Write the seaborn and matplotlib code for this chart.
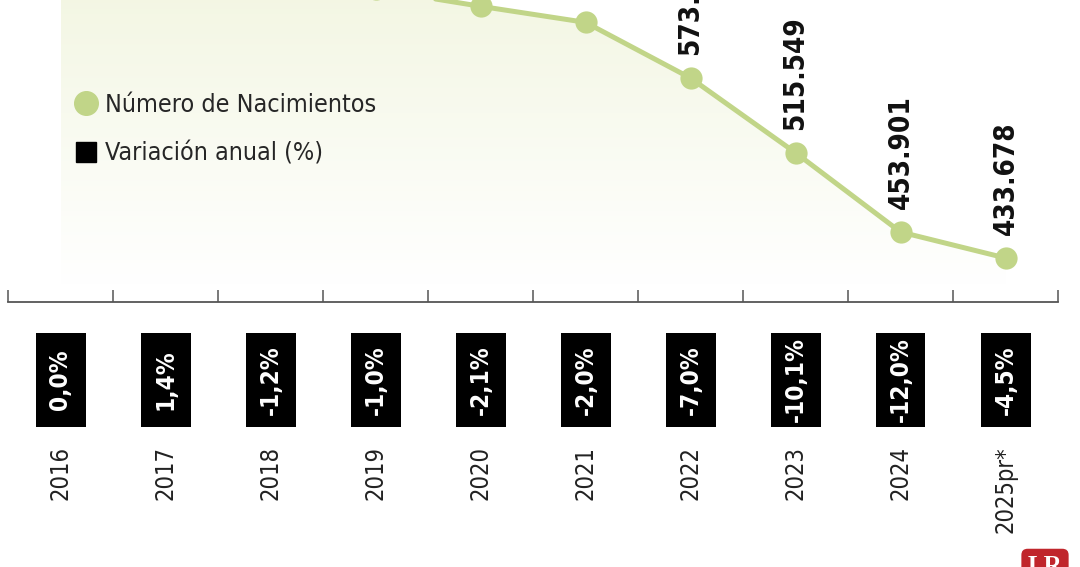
import numpy as np
import pandas as pd
import matplotlib.pyplot as plt
import seaborn as sns
from matplotlib import font_manager as fm
from matplotlib.patches import Rectangle, Polygon
from matplotlib.lines import Line2D
from matplotlib.transforms import blended_transform_factory
from matplotlib.colors import LinearSegmentedColormap

# Datos
years = ["2016", "2017", "2018", "2019", "2020", "2021", "2022", "2023", "2024", "2025pr*"]
births = [647521, 656704, 649115, 642660, 629402, 616914, 573625, 515549, 453901, 433678]
variation = ["0,0%", "1,4%", "-1,2%", "-1,0%", "-2,1%", "-2,0%", "-7,0%", "-10,1%", "-12,0%", "-4,5%"]

df = pd.DataFrame({"i": np.arange(len(years)), "year": years, "births": births})

green = "#c1d588"

sns.set_style("white")

# pick a narrow/condensed font if there is one
installed = {(f.name, f.stretch) for f in fm.fontManager.ttflist}
names = {n for n, _ in installed}
stretch = "normal"
if "Liberation Sans Narrow" in names:
    fam = "Liberation Sans Narrow"
else:
    fam = "DejaVu Sans"
    for cand in ["DejaVu Sans", "Noto Sans", "Open Sans", "Roboto"]:
        if any(n == cand and s in ("condensed", "semi-condensed", "extra-condensed")
               for n, s in installed):
            fam = cand
            stretch = "condensed"
            break
plt.rcParams["font.family"] = [fam, "DejaVu Sans"]
plt.rcParams["font.stretch"] = stretch

W, H = 1080, 567
fig = plt.figure(figsize=(10.8, 5.67), dpi=100)
# axes extends above the figure so the top of the chart is cut off
ax = fig.add_axes([8 / W, 1 - 302 / H, 1050 / W, 362 / H])
ax.set_xlim(-0.5, 9.5)
ax.set_ylim(399463, 680957)

# gradient area under the line
cmap = LinearSegmentedColormap.from_list("g", ["#ffffff", "#f1f5de"])
grad = np.linspace(0, 1, 256).reshape(-1, 1)
ybot = 412683
im = ax.imshow(grad, cmap=cmap, aspect="auto", origin="lower",
               extent=[0, len(years) - 1, ybot, 680957], zorder=0)
poly = Polygon(list(zip(df["i"], df["births"])) + [(len(years) - 1, ybot), (0, ybot)],
               closed=True, facecolor="none", edgecolor="none")
ax.add_patch(poly)
im.set_clip_path(poly)

sns.lineplot(data=df, x="i", y="births", ax=ax, color=green, linewidth=3.6,
             marker="o", markersize=16, markeredgewidth=0, zorder=3)

for i, v in zip(df["i"], df["births"]):
    ax.annotate(f"{v:,}".replace(",", "."), (i, v), xytext=(0, 16.5),
                textcoords="offset points", rotation=90, ha="center", va="bottom",
                fontsize=20, fontweight="bold", color="#111111", zorder=4)

# axis styling
for s in ["top", "left", "right"]:
    ax.spines[s].set_visible(False)
ax.spines["bottom"].set_color("#555555")
ax.spines["bottom"].set_linewidth(1.3)
ax.set_yticks([])
ax.set_xticks(np.arange(-0.5, len(years), 1.0))
ax.set_xticklabels([])
ax.tick_params(axis="x", bottom=True, direction="in", length=9, width=1.1,
               color="#555555")
ax.set_xlabel("")
ax.set_ylabel("")
ax.set_facecolor("none")

# variation boxes and year labels
tr = blended_transform_factory(ax.transData, fig.transFigure)
for i, (y, p) in enumerate(zip(years, variation)):
    ax.add_patch(Rectangle((i - 25 / 105, 1 - 427 / H), 50 / 105, 94 / H,
                           transform=tr, facecolor="black", edgecolor="none",
                           clip_on=False))
    ax.text(i, 1 - 380 / H, p, transform=tr, rotation=90, ha="center", va="center",
            color="white", fontsize=17.5, fontweight="bold", clip_on=False)
    ax.text(i, 1 - 446 / H, y, transform=tr, rotation=90, ha="center", va="top",
            color="#222222", fontsize=17, clip_on=False)

# legend
handles = [Line2D([], [], marker="o", color=green, linestyle="none", markersize=17),
           Line2D([], [], marker="s", color="black", linestyle="none", markersize=14.5)]
fig.legend(handles, ["Número de Nacimientos", "Variación anual (%)"],
           loc="upper left", bbox_to_anchor=(76 / W, 1 - 93 / H), frameon=False,
           fontsize=18, handlelength=0.8, handletextpad=0.35, labelspacing=1.0,
           borderpad=0, borderaxespad=0)

# logo
fig.text(1045 / W, 1 - 555 / H, "LR", ha="center", va="top", color="white",
         fontsize=18, fontweight="bold", family="Liberation Serif",
         bbox=dict(boxstyle="round,pad=0.25", facecolor="#c0262c", edgecolor="none"))

fig.savefig("out.png", dpi=100)
